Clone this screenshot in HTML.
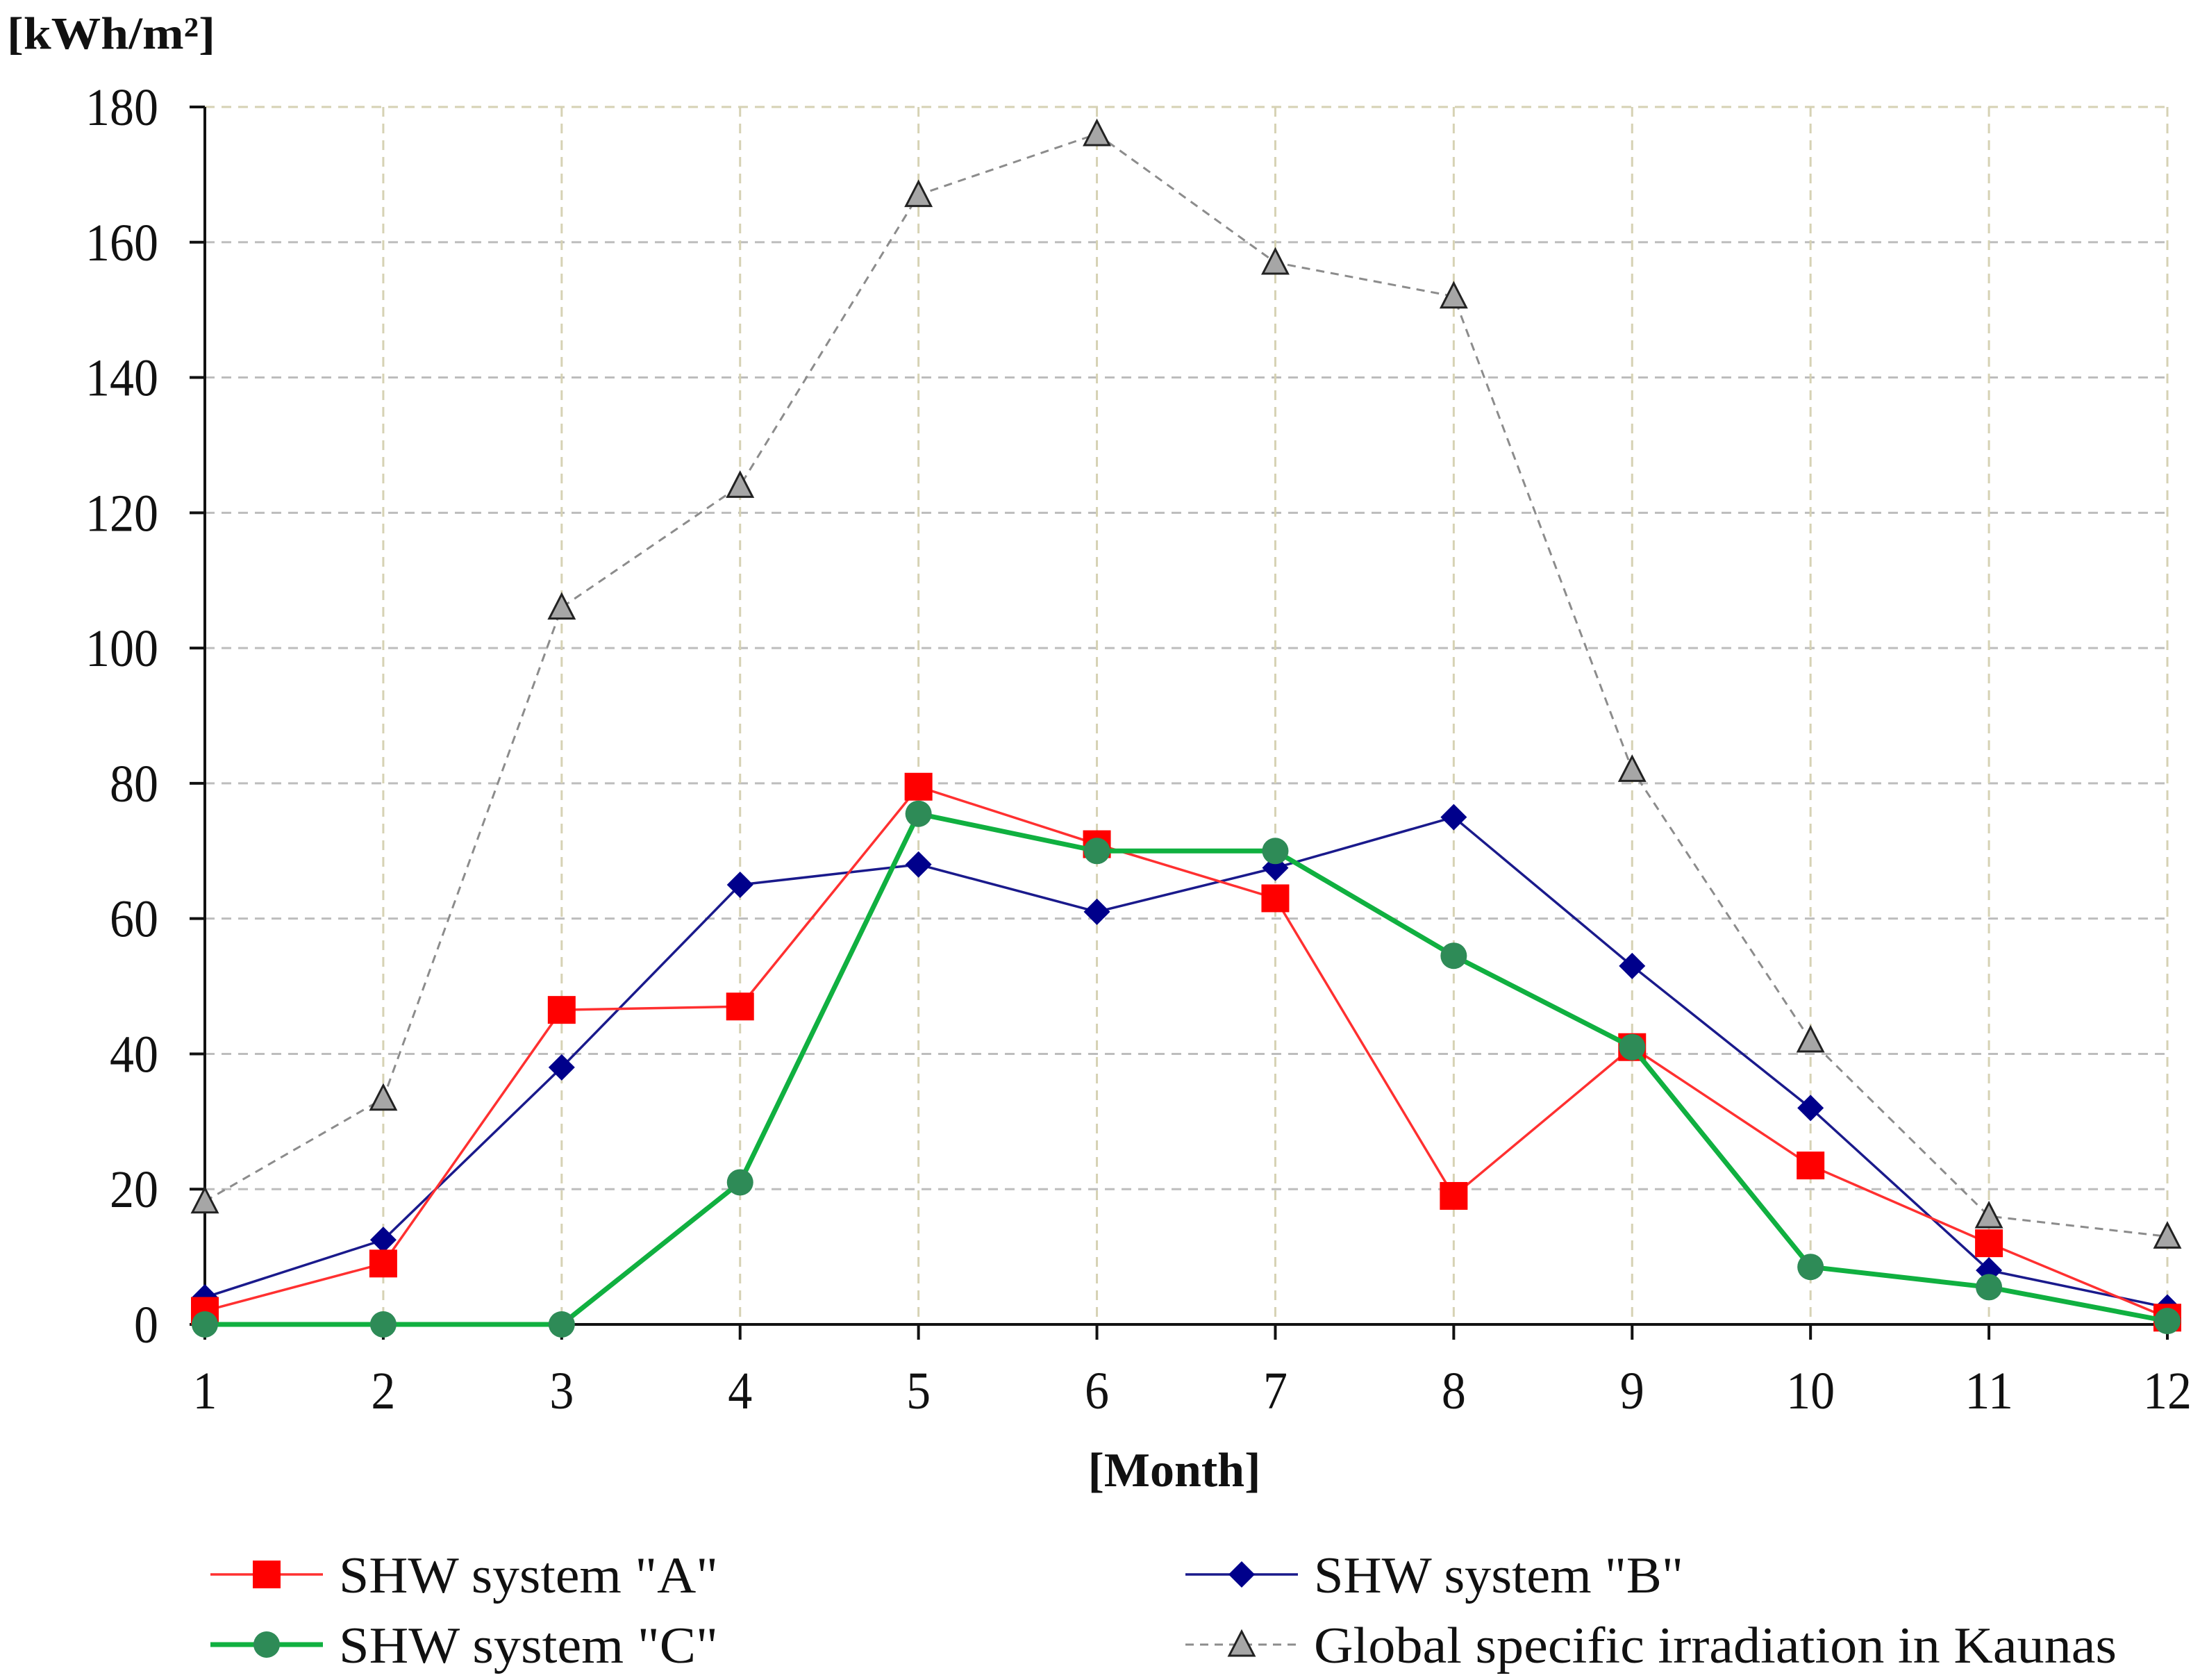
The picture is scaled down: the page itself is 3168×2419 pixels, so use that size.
<!DOCTYPE html>
<html><head><meta charset="utf-8"><style>
html,body{margin:0;padding:0;background:#fff}
svg{display:block}
text{font-family:"Liberation Serif",serif;fill:#111}
</style></head><body>
<svg id="chart" width="3168" height="2419" viewBox="0 0 3168 2419" xmlns="http://www.w3.org/2000/svg">
<g id="grid"></g>
<g id="axes"></g>
<g id="series"></g>
<text x="10" y="70" font-size="66" font-weight="bold" textLength="300" lengthAdjust="spacingAndGlyphs">[kWh/m²]</text>
<text x="1691" y="2140" font-size="70" font-weight="bold" text-anchor="middle">[Month]</text>
<g id="legend"></g>
</svg>
<script>
const months = [1,2,3,4,5,6,7,8,9,10,11,12];
const yTicks = [0,20,40,60,80,100,120,140,160,180];
const seriesA = [2,9,46.5,47,79.5,71,63,19,41,23.5,12,1];
const seriesB = [4,12.5,38,65,68,61,67.5,75,53,32,8,2.5];
const seriesC = [0,0,0,21,75.5,70,70,54.5,41,8.5,5.5,0.5];
const seriesG = [18.2,33.4,106,124,167,176,157,152,82,42,16,13];

const NS="http://www.w3.org/2000/svg";
const X0=295,X1=3121,Y0=1907,Y1=154;
const xs=m=>X0+(m-1)*(X1-X0)/11;
const ys=v=>Y0-v*(Y0-Y1)/180;
function mk(tag,attrs,parent){const e=document.createElementNS(NS,tag);for(const k in attrs)e.setAttribute(k,attrs[k]);parent.appendChild(e);return e;}
const grid=document.getElementById('grid'),axes=document.getElementById('axes'),ser=document.getElementById('series'),leg=document.getElementById('legend');

yTicks.forEach(t=>{
  if(t>0){const l=mk('line',{x1:X0,x2:X1,y1:ys(t),y2:ys(t),stroke:t==180?'#d6d2b4':'#bdbdbd','stroke-width':3,'stroke-dasharray':'14 10'},grid);
  
  }
  const tk=mk('line',{x1:X0-22,x2:X0,y1:ys(t),y2:ys(t),stroke:'#111','stroke-width':4},axes);
  
  
  const s=String(t);
  const tx=mk('text',{x:228,y:ys(t)+26,'font-size':76,'text-anchor':'end',textLength:s.length*35,lengthAdjust:'spacingAndGlyphs'},axes);
  tx.textContent=s;
  
  
});
months.forEach(m=>{
  if(m>1){const l=mk('line',{x1:xs(m),x2:xs(m),y1:Y1,y2:Y0,stroke:'#d6d2b4','stroke-width':3,'stroke-dasharray':'14 10'},grid);
  
  }
  const tk=mk('line',{x1:xs(m),x2:xs(m),y1:Y0,y2:Y0+22,stroke:'#111','stroke-width':4},axes);
  
  
  const s=String(m);
  const tx=mk('text',{x:xs(m),y:2028,'font-size':76,'text-anchor':'middle',textLength:s.length*35,lengthAdjust:'spacingAndGlyphs'},axes);
  tx.textContent=s;
  
  
});
const ya=mk('line',{x1:X0,x2:X0,y1:Y1,y2:Y0,stroke:'#111','stroke-width':4},axes);


const xa=mk('line',{x1:X0,x2:X1,y1:Y0,y2:Y0,stroke:'#111','stroke-width':4},axes);



function marker(type,cx,cy,g){
  let e;
  if(type=='square')e=mk('rect',{x:cx-20,y:cy-20,width:40,height:40,fill:'#f00'},g);
  else if(type=='diamond')e=mk('polygon',{points:`${cx},${cy-19} ${cx+19},${cy} ${cx},${cy+19} ${cx-19},${cy}`,fill:'#00008b'},g);
  else if(type=='circle')e=mk('circle',{cx:cx,cy:cy,r:19,fill:'#2e8b57'},g);
  else e=mk('polygon',{points:`${cx},${cy-19} ${cx+18},${cy+16} ${cx-18},${cy+16}`,fill:'#a6a6a6',stroke:'#222','stroke-width':3},g);
  return e;
}
const defs=[
 {name:'global-irradiation',data:seriesG,color:'#8c8c8c',w:3,dash:'12 9',m:'triangle'},
 {name:'series-a',data:seriesA,color:'#ff3030',w:3.5,dash:'',m:'square'},
 {name:'series-b',data:seriesB,color:'#1a1a8c',w:3.5,dash:'',m:'diamond'},
 {name:'series-c',data:seriesC,color:'#10b040',w:7,dash:'',m:'circle'}
];
const drawOrder=[0,2,1,3];
drawOrder.forEach(i=>{
  const d=defs[i];
  const g=mk('g',{},ser);
  
  
  const pl=mk('polyline',{points:d.data.map((v,j)=>xs(months[j])+','+ys(v)).join(' '),fill:'none',stroke:d.color,'stroke-width':d.w,'stroke-dasharray':d.dash},g);
  
  
  d.data.forEach((v,j)=>{
    const mm=marker(d.m,xs(months[j]),ys(v),g);
    
    
  });
});
const legItems=[
 {i:1,x:303,y:2267,label:'SHW system "A"',tl:546},
 {i:2,x:1707,y:2267,label:'SHW system "B"',tl:532},
 {i:3,x:303,y:2368,label:'SHW system "C"',tl:546},
 {i:0,x:1707,y:2368,label:'Global specific irradiation in Kaunas',tl:1156}
];
legItems.forEach(it=>{
  const d=defs[it.i];
  const g=mk('g',{},leg);
  
  
  mk('line',{x1:it.x,x2:it.x+162,y1:it.y,y2:it.y,stroke:d.color,'stroke-width':d.w,'stroke-dasharray':d.dash},g);
  marker(d.m,it.x+81,it.y,g);
  const t=mk('text',{x:it.x+185,y:it.y+26,'font-size':74,textLength:it.tl,lengthAdjust:'spacingAndGlyphs'},g);
  t.textContent=it.label;
});
</script>
</body></html>
